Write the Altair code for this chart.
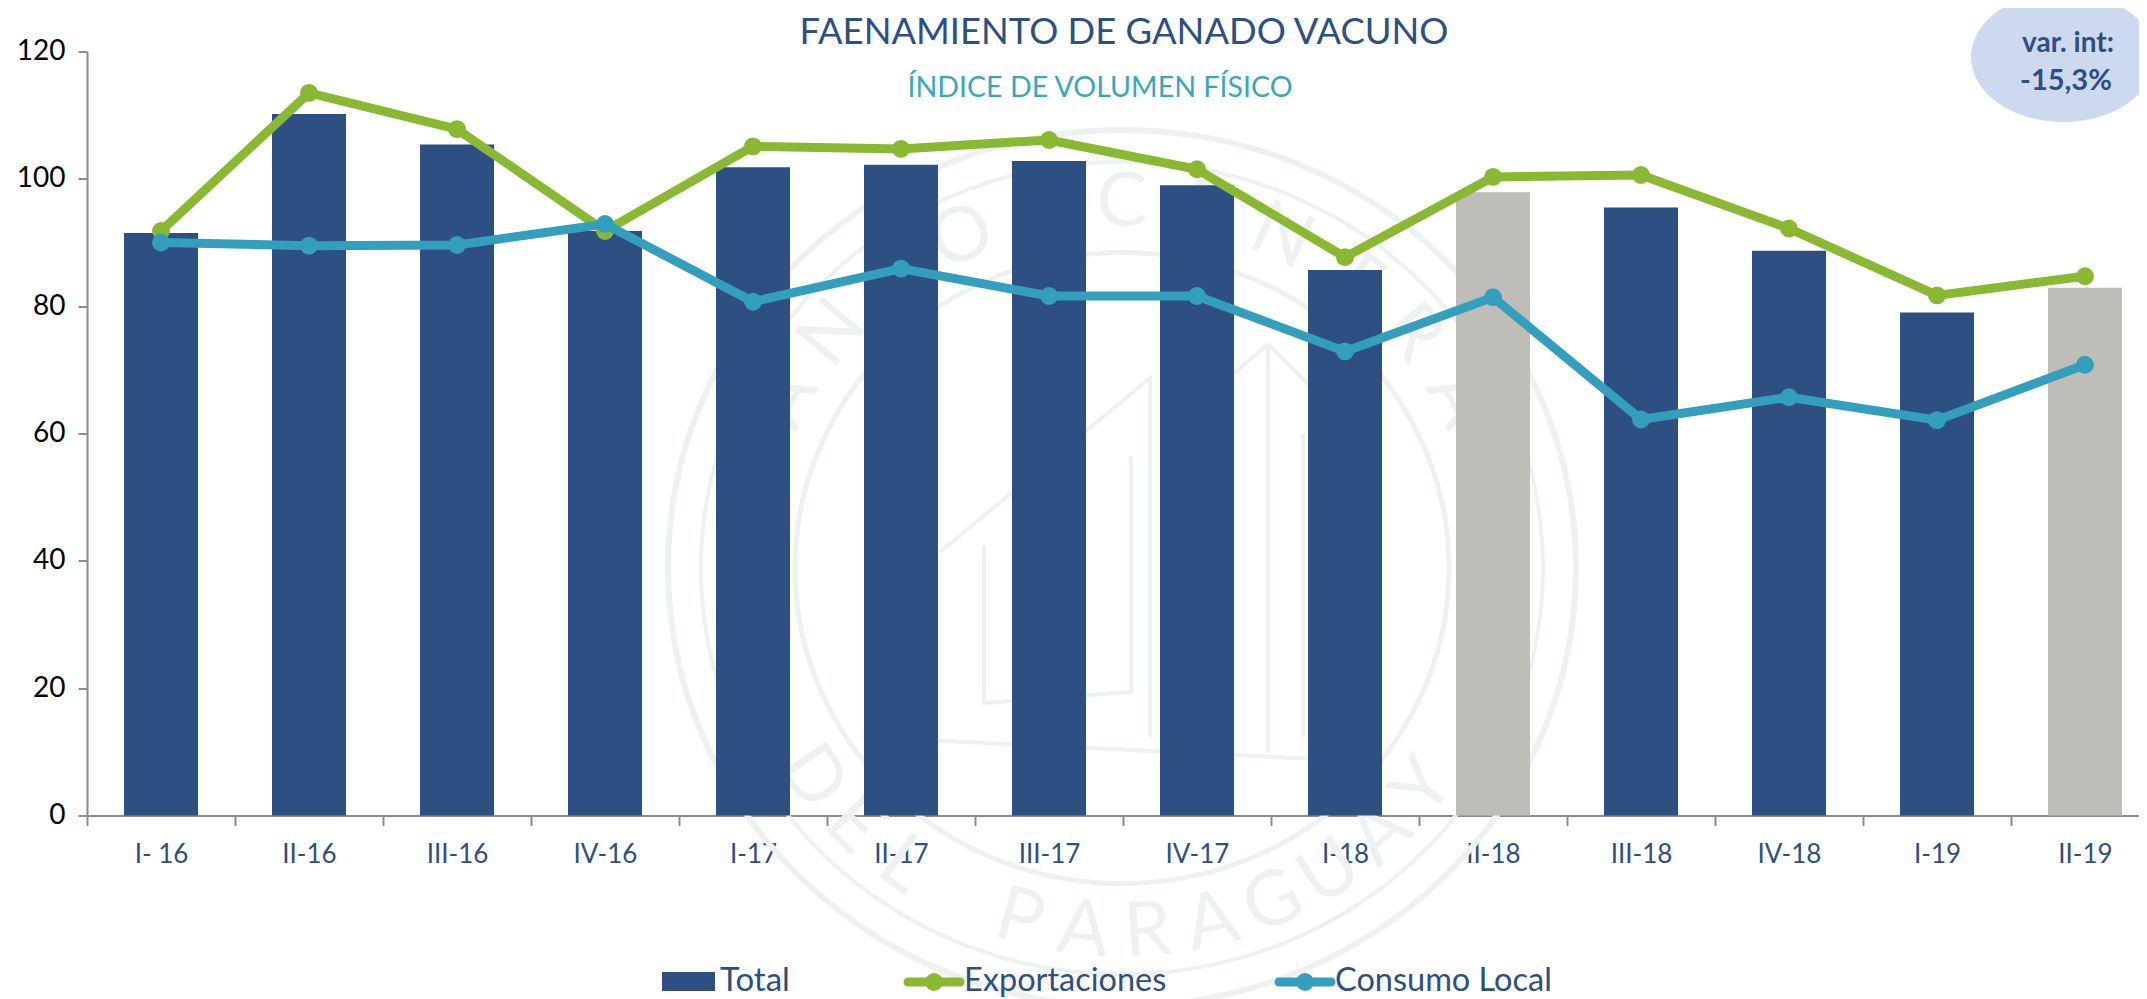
import math
import altair as alt
import pandas as pd

cats = ["I- 16","II-16","III-16","IV-16","I-17","II-17","III-17","IV-17","I-18","II-18","III-18","IV-18","I-19","II-19"]
total = [91.5,110.2,105.4,91.8,101.8,102.2,102.8,99.0,85.7,97.9,95.5,88.7,79.0,82.9]
export = [91.8,113.5,107.8,91.8,105.1,104.7,106.1,101.5,87.7,100.3,100.6,92.2,81.7,84.7]
local = [90.0,89.5,89.6,92.9,80.7,85.9,81.6,81.6,72.9,81.4,62.2,65.7,62.1,70.8]
grey_cats = ["II-18","II-19"]
title_text = "FAENAMIENTO DE GANADO VACUNO"
subtitle_text = "ÍNDICE DE VOLUMEN FÍSICO"
badge_lines = ["var. int:", "-15,3%"]
seal_top = "BANCO CENTRAL"
seal_bottom = "DEL PARAGUAY"

FONT = "Lato"
NAVY = "#2D4F82"
GREEN = "#8AB833"
TEAL = "#339FBC"
GREY = "#BFBDB8"
AXIS = "#8C8C8C"
SEAL = "#EDF2F0"

df = pd.DataFrame({"q": cats, "Total": total, "Exportaciones": export, "Consumo": local})
df["c"] = [GREY if c in grey_cats else NAVY for c in cats]
one = pd.DataFrame({"a": [0]})

xs = alt.Scale(type="band", domain=cats, padding=0)
ys = alt.Scale(domain=[0, 120], nice=False)
CX, CY = 1035, 516.5


def ell(rx, ry):
    return f"M{-rx},0A{rx},{ry} 0 1 1 {rx},0A{rx},{ry} 0 1 1 {-rx},0Z"


def shape(path, x, y, color, filled=False, sw=4):
    kw = dict(fill=color, strokeWidth=0, opacity=1) if filled else dict(stroke=color, strokeWidth=sw, fillOpacity=0, opacity=1)
    return alt.Chart(one).mark_point(shape=path, size=4, filled=filled, **kw).encode(x=alt.value(x), y=alt.value(y))


def label(text, x, y, size, color=NAVY, weight=400, align="center"):
    return alt.Chart(one).mark_text(text=text, font=FONT, fontSize=size, color=color, fontWeight=weight,
                                    align=align, baseline="middle").encode(x=alt.value(x), y=alt.value(y))


# faint institutional seal behind the bars
rings = [shape(ell(r, r * 0.965), CX, CY, SEAL, sw=w) for r, w in [(454, 6), (421, 4), (327, 5)]]
building = "M-182,-16L28,-190L28,169M9,-112L9,124L-138,135L-138,-22M146,-224L146,185M181,-134L181,169M-259,169L194,191M146,-224L60,-150M146,-224L230,-140"
rings.append(shape(building, CX, CY, SEAL, sw=4))

letters = []
n = len(seal_top)
for i, ch in enumerate(seal_top):
    t = -75 + 150 * i / (n - 1)
    a = math.radians(t)
    letters.append({"ch": ch, "wx": CX + 378 * math.sin(a), "wy": CY - 365 * math.cos(a), "ang": t % 360})
n = len(seal_bottom)
for i, ch in enumerate(seal_bottom):
    t = -55 + 108 * i / (n - 1)
    a = math.radians(t)
    letters.append({"ch": ch, "wx": CX + 378 * math.sin(a), "wy": CY + 365 * math.cos(a), "ang": (-t) % 360})
seal_text = alt.Chart(pd.DataFrame(letters)).mark_text(font=FONT, fontSize=76, color=SEAL, baseline="middle").encode(
    x=alt.X("wx:Q", scale=None, axis=None),
    y=alt.Y("wy:Q", scale=None, axis=None),
    text="ch:N",
    angle=alt.Angle("ang:Q", scale=None),
)

bars = alt.Chart(df).mark_bar(width=alt.RelativeBandSize(band=0.5)).encode(
    x=alt.X("q:N", sort=cats, scale=xs, axis=alt.Axis(
        title=None, labelAngle=0, labelFont=FONT, labelFontSize=26, labelColor=NAVY, labelPadding=16,
        tickBand="extent", tickSize=10, tickColor=AXIS, tickWidth=2, domainColor=AXIS, domainWidth=2,
        grid=False, labelOverlap=False)),
    y=alt.Y("Total:Q", scale=ys, axis=alt.Axis(
        title=None, values=[0, 20, 40, 60, 80, 100, 120], labelFont=FONT, labelFontSize=28, labelColor="#000000",
        labelPadding=13, tickSize=9, tickColor=AXIS, tickWidth=2, domainColor=AXIS, domainWidth=2, grid=False)),
    color=alt.Color("c:N", scale=None),
)


def series(field, color):
    return alt.Chart(df).mark_line(color=color, strokeWidth=9, point=alt.OverlayMarkDef(color=color, size=320, filled=True, opacity=1)).encode(
        x=alt.X("q:N", sort=cats, scale=xs, axis=None, bandPosition=0.5),
        y=alt.Y(f"{field}:Q", scale=ys, axis=None),
    )


def legend_line(x0, x1, color, y):
    rule = alt.Chart(one).mark_rule(color=color, strokeWidth=9, strokeCap="round").encode(
        x=alt.value(x0), x2=alt.value(x1), y=alt.value(y))
    dot = alt.Chart(one).mark_point(color=color, filled=True, size=320, opacity=1).encode(
        x=alt.value((x0 + x1) / 2), y=alt.value(y))
    return rule + dot


LY = 982 - 51.5
LT = LY - 1
legend_rect = alt.Chart(one).mark_rect(color=NAVY).encode(
    x=alt.value(662 - 87), x2=alt.value(715 - 87), y=alt.value(972 - 51.5), y2=alt.value(991 - 51.5))

chart = alt.layer(
    *rings, seal_text,
    bars, series("Exportaciones", GREEN), series("Consumo", TEAL),
    label(title_text, 1124 - 87, 33 - 51.5, 36.4),
    label(subtitle_text, 1100 - 87, 88 - 51.5, 28.6, color="#3AA6BE"),
    shape(ell(92, 65), 1976, 5.5, "#CDD9EE", filled=True),
    label(badge_lines[0], 2068 - 87, 44 - 51.5, 28, weight=700),
    label(badge_lines[1], 2066 - 87, 81 - 51.5, 29, weight=700),
    legend_rect,
    label("Total", 720 - 87, LT, 33, align="left"),
    legend_line(908 - 87, 960 - 87, GREEN, LY),
    label("Exportaciones", 964 - 87, LT, 32.5, align="left"),
    legend_line(1279 - 87, 1331 - 87, TEAL, LY),
    label("Consumo Local", 1335 - 87, LT, 32.5, align="left"),
).resolve_scale(x="independent", y="independent").properties(
    width=2072, height=764,
    autosize=alt.AutoSizeParams(type="none"),
    padding={"left": 79, "top": 43.5, "right": -20, "bottom": 183.5},
    background="#FFFFFF",
).configure_view(stroke=None)

chart.save("out.html", embed_options={"renderer": "svg", "actions": False})
